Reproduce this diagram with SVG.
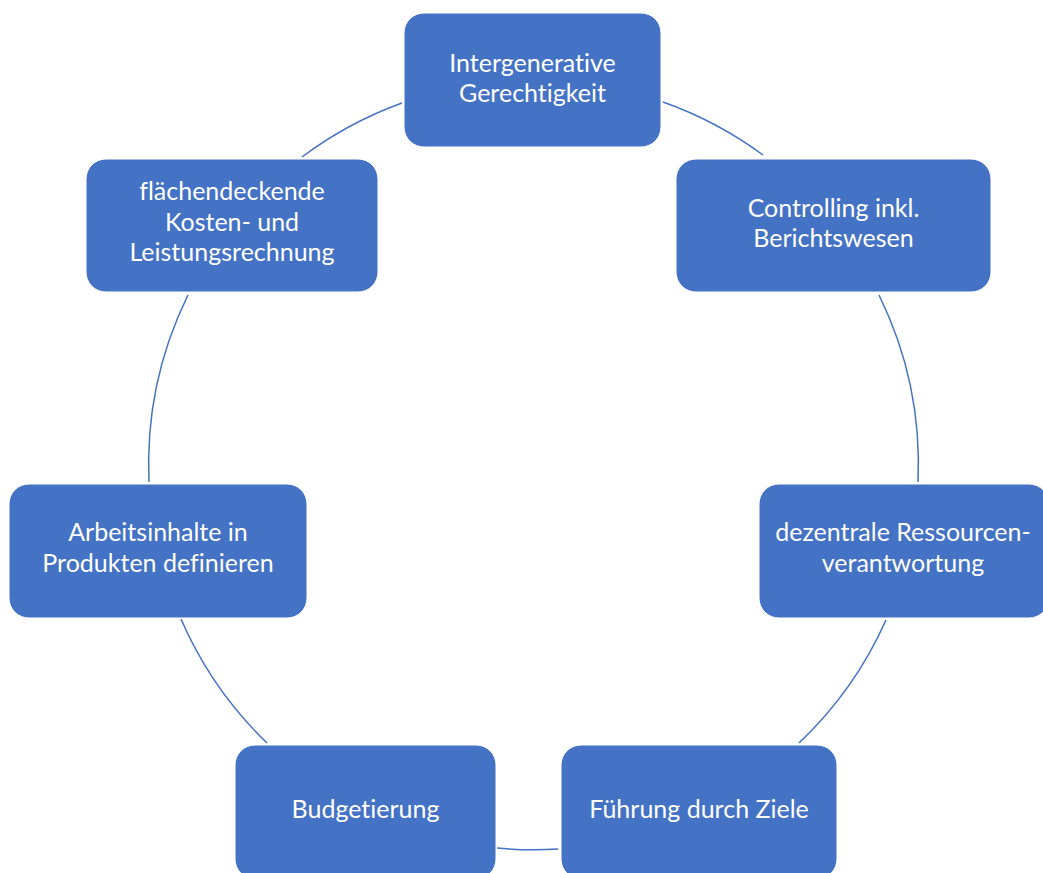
<svg xmlns="http://www.w3.org/2000/svg" width="1043" height="873" viewBox="0 0 1043 873">
<style>
.box{fill:#4472C4;stroke:#ffffff;stroke-width:1}
.lbl{fill:#ffffff;font-family:Lato,"Open Sans","Liberation Sans",sans-serif;font-size:25px;text-anchor:middle;font-variant-ligatures:none}
.arc{fill:none;stroke:#4472C4;stroke-width:1.5}
</style>
<rect x="0" y="0" width="1043" height="873" fill="#ffffff"/>
<g id="connectors">
<path class="arc" d="M663,102 A385,385 0 0 1 763,155"/>
<path class="arc" d="M879,295 A385,385 0 0 1 918,482"/>
<path class="arc" d="M886,620 A385,385 0 0 1 799,743"/>
<path class="arc" d="M558,849 A385,385 0 0 1 497,848"/>
<path class="arc" d="M267,743 A385,385 0 0 1 181,619"/>
<path class="arc" d="M149,482 A385,385 0 0 1 188,295"/>
<path class="arc" d="M302,157 A385,385 0 0 1 402,103"/>
</g>
<g id="node-intergenerative">
<rect class="box" x="404" y="13" width="257" height="134" rx="20"/>
<text class="lbl" x="532.5" y="72">Intergenerative</text>
<text class="lbl" x="532.5" y="102">Gerechtigkeit</text>
</g>
<g id="node-controlling">
<rect class="box" x="676" y="159" width="315" height="133" rx="20"/>
<text class="lbl" x="833.5" y="217">Controlling inkl.</text>
<text class="lbl" x="833.5" y="247">Berichtswesen</text>
</g>
<g id="node-dezentrale">
<rect class="box" x="759" y="484" width="290" height="134" rx="20"/>
<text class="lbl" x="903" y="541">dezentrale Ressourcen-</text>
<text class="lbl" x="903" y="572">verantwortung</text>
</g>
<g id="node-fuehrung">
<rect class="box" x="561" y="745" width="276" height="134" rx="20"/>
<text class="lbl" x="699" y="818">Führung durch Ziele</text>
</g>
<g id="node-budgetierung">
<rect class="box" x="235" y="745" width="261" height="134" rx="20"/>
<text class="lbl" x="365.5" y="818">Budgetierung</text>
</g>
<g id="node-arbeitsinhalte">
<rect class="box" x="9" y="484" width="298" height="134" rx="20"/>
<text class="lbl" x="158" y="541">Arbeitsinhalte in</text>
<text class="lbl" x="158" y="572">Produkten definieren</text>
</g>
<g id="node-flaechendeckende">
<rect class="box" x="86" y="159" width="292" height="133" rx="20"/>
<text class="lbl" x="232" y="200">flächendeckende</text>
<text class="lbl" x="232" y="231">Kosten- und</text>
<text class="lbl" x="232" y="261">Leistungsrechnung</text>
</g>
</svg>
